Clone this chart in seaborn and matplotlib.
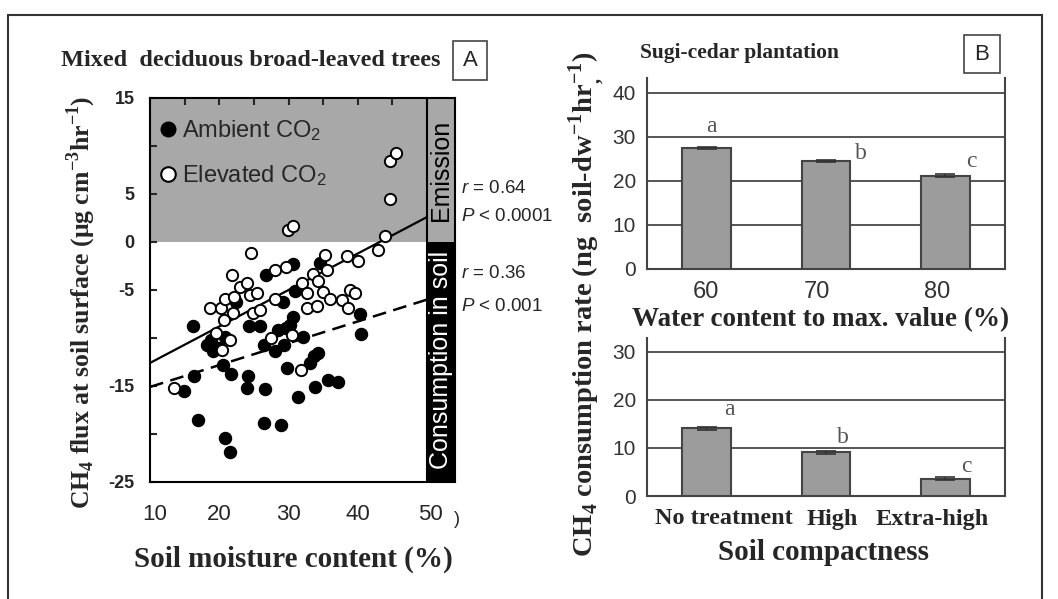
import matplotlib
matplotlib.use('Agg')
import matplotlib.pyplot as plt
import matplotlib.transforms as mtransforms
import pandas as pd
import seaborn as sns
from matplotlib import font_manager
from matplotlib.lines import Line2D
from matplotlib.patches import Rectangle

# ---- Panel A: soil moisture (%) vs CH4 flux ----
ambient_moisture = [26.8, 30.6, 34.5, 30.9, 40.3, 40.5, 29.2, 24.3, 25.9, 30.6,
                    29.7, 32.1, 26.4, 28.1, 29.4, 34.2, 33.1, 29.8, 24.2, 24.0,
                    26.6, 31.4, 33.8, 35.7, 37.2, 26.4, 28.9, 20.8, 21.6, 17.0,
                    14.9, 16.3, 21.7, 20.6, 19.1, 18.2, 20.8, 16.2, 22.4, 18.8,
                    19.9, 33.7, 28.5, 30.2]
ambient_flux = [-3.4, -2.3, -2.2, -5.1, -7.5, -9.6, -6.3, -8.8, -8.75, -7.8,
                -9.0, -9.9, -10.7, -11.4, -10.7, -11.6, -12.6, -13.1, -14.0, -15.2,
                -15.3, -16.1, -15.1, -14.4, -14.6, -18.9, -19.1, -20.4, -21.9, -18.5,
                -15.5, -14.0, -13.8, -12.8, -11.4, -10.7, -9.9, -8.8, -6.3, -10.2,
                -11.0, -11.9, -9.2, -8.6]
elevated_moisture = [24.6, 35.2, 38.5, 40.1, 42.9, 21.8, 28.1, 29.6, 35.5, 33.6,
                     34.3, 32.0, 32.7, 35.0, 36.0, 37.7, 38.6, 38.9, 39.6, 32.6,
                     34.1, 28.1, 24.9, 25.9, 30.5, 27.5, 31.8, 13.5, 20.4, 19.5,
                     21.6, 18.7, 20.2, 20.8, 22.0, 22.1, 23.0, 24.0, 24.5, 20.7,
                     25.4, 44.6, 44.6, 45.5, 29.9, 30.6, 43.9]
elevated_flux = [-1.1, -1.35, -1.5, -2.0, -0.8, -3.4, -2.9, -2.6, -2.9, -3.3,
                 -4.1, -4.3, -5.35, -5.2, -5.9, -6.0, -6.9, -5.0, -5.35, -6.9,
                 -6.7, -5.9, -7.4, -7.1, -9.7, -10.0, -13.3, -15.2, -11.3, -9.5,
                 -10.2, -6.9, -6.9, -5.9, -7.4, -5.7, -4.65, -4.3, -5.5, -8.1,
                 -5.3, 4.5, 8.4, 9.3, 1.3, 1.7, 0.65]

# regression lines (end points at 10 % and 50 % moisture)
fit_moisture = [10, 50]
fit_elevated = [-12.6, 2.6]
fit_ambient = [-15.1, -6.0]
fit_stats = [('0.64', '0.0001'), ('0.36', '0.001')]

# ---- Panel B: CH4 consumption rate ----
water_levels = ['60', '70', '80']
water_rate = [27.5, 24.5, 21.2]
water_err = [0.3, 0.3, 0.3]
water_letters = ['a', 'b', 'c']

compact_levels = ['No treatment', 'High', 'Extra-high']
compact_rate = [14.1, 9.1, 3.6]
compact_err = [0.3, 0.3, 0.3]
compact_letters = ['a', 'b', 'c']

sns.set_style('white')
names = {f.name for f in font_manager.fontManager.ttflist}
narrow = next((n for n in ['Liberation Sans Narrow', 'DejaVu Sans Condensed', 'Liberation Sans']
               if n in names), 'Liberation Sans')
serif = 'Liberation Serif'
sans = 'Liberation Sans'
plt.rcParams['font.family'] = [sans, 'DejaVu Sans']
plt.rcParams['mathtext.fontset'] = 'custom'
plt.rcParams['mathtext.it'] = narrow + ':italic'
plt.rcParams['mathtext.rm'] = narrow

W, H = 1058, 599
fig = plt.figure(figsize=(W / 100, H / 100), dpi=100)


def fx(px):
    return px / W


def fy(py):
    return 1 - py / H


def axes_rect(x0, y0, x1, y1):
    return [fx(x0), fy(y1), fx(x1) - fx(x0), fy(y0) - fy(y1)]


def shift_labels(labels, offsets):
    for lab, dx in zip(labels, offsets):
        lab.set_transform(lab.get_transform() +
                          mtransforms.ScaledTranslation(dx / 100, 0, fig.dpi_scale_trans))


# outer frame of the composite figure
fig.add_artist(Rectangle((fx(8), fy(610)), fx(1042) - fx(8), fy(15) - fy(610),
                         transform=fig.transFigure, fill=False, ec='#333333', lw=1.5))

# ================= Panel A =================
ax = fig.add_axes(axes_rect(150, 98, 455, 482))
x_end = 50 + 28 / 6.925
ax.set_xlim(10, x_end)
ax.set_ylim(-25, 15)
ax.axhspan(0, 15, color='#a8a8a8', lw=0, zorder=0)
ax.fill_between([50, x_end], -25, 0, color='black', lw=0, zorder=1)
ax.axvline(50, color='black', lw=1.5, zorder=2)

sns.lineplot(x=fit_moisture, y=fit_elevated, color='black', lw=1.6, ax=ax, zorder=3)
sns.lineplot(x=fit_moisture, y=fit_ambient, color='black', lw=1.8, ax=ax, zorder=3,
             linestyle=(0, (5.5, 3)))

pts = pd.DataFrame({
    'moisture': ambient_moisture + elevated_moisture,
    'flux': ambient_flux + elevated_flux,
    'co2': ['Ambient'] * len(ambient_moisture) + ['Elevated'] * len(elevated_moisture),
})
sns.scatterplot(data=pts[pts.co2 == 'Ambient'], x='moisture', y='flux', color='black',
                edgecolor='black', s=75, linewidth=1.0, ax=ax, zorder=4, legend=False)
sns.scatterplot(data=pts[pts.co2 == 'Elevated'], x='moisture', y='flux', color='white',
                edgecolor='black', s=66, linewidth=1.4, ax=ax, zorder=5, legend=False)

ax.set_xlabel('')
ax.set_ylabel('')
ax.set_xticks(range(10, 55, 5))
ax.set_xticklabels(['10', '', '20', '', '30', '', '40', '', '50'], fontsize=16,
                   family=sans)
yt = list(range(-25, 20, 5))
ax.set_yticks(yt)
ax.set_yticklabels([str(v) if v in (15, 5, 0, -5, -15, -25) else '' for v in yt],
                   fontsize=13, family=narrow, fontweight='bold')
ax.tick_params(axis='x', direction='in', top=True, length=5, width=1.5, pad=16)
ax.tick_params(axis='y', direction='in', left=True, right=False, length=5, width=1.5, pad=11)
shift_labels(ax.get_xticklabels(), [5, 0, 0, 0, 0, 0, 0, 0, 3])
for s in ax.spines.values():
    s.set_visible(True)
    s.set_linewidth(1.5)
    s.set_color('black')

handles = [Line2D([], [], marker='o', ls='', mfc='black', mec='black', ms=10.5),
           Line2D([], [], marker='o', ls='', mfc='white', mec='black', mew=1.5, ms=10.5)]
leg = ax.legend(handles, ['Ambient CO$_{\\mathregular{2}}$', 'Elevated CO$_{\\mathregular{2}}$'],
                loc='upper left', bbox_to_anchor=(-0.05, 1.002), frameon=False,
                handletextpad=0.1, handlelength=1.0, labelspacing=0.83,
                prop={'family': narrow, 'size': 17})

ax.text(52.02, 7.5, 'Emission', rotation=90, ha='center', va='center',
        fontsize=18, family=sans, color='black', zorder=6)
ax.text(52.02, -12.3, 'Consumption in soil', rotation=90, ha='center', va='center',
        fontsize=18, family=sans, color='white', zorder=6)

stat_y = [188, 216.5, 273, 306.5]
for i, (r, p) in enumerate(fit_stats):
    fig.text(fx(461), fy(stat_y[2 * i]), '$r$ = ' + r, va='center', ha='left',
             fontsize=13.5, family=narrow)
    fig.text(fx(461), fy(stat_y[2 * i + 1]), '$P$ < ' + p, va='center', ha='left',
             fontsize=13.5, family=narrow)

fig.text(fx(457), fy(520), ')', va='center', ha='center', fontsize=13, family=sans)
fig.text(fx(82), fy(302),
         'CH$_{\\mathregular{4}}$ flux at soil surface (\u03bcg cm$^{\\mathregular{-3}}$hr$^{\\mathregular{-1}}$)',
         rotation=90, ha='center', va='center', fontsize=18.5, family=serif, fontweight='bold')
fig.text(fx(293), fy(559), 'Soil moisture content (%)', ha='center', va='center',
         fontsize=21, family=serif, fontweight='bold')
fig.text(fx(251), fy(60), 'Mixed  deciduous broad-leaved trees', ha='center', va='center',
         fontsize=17.5, family=serif, fontweight='bold')
fig.add_artist(Rectangle((fx(453), fy(80)), fx(487) - fx(453), fy(41) - fy(80),
                         transform=fig.transFigure, fill=False, ec='#444444', lw=1.2))
fig.text(fx(470), fy(61), 'A', ha='center', va='center', fontsize=16, family=sans)


# ================= Panel B =================
def bar_panel(rect, levels, rate, err, letters, ymax, yticks, letter_pos):
    bx = fig.add_axes(rect)
    sns.barplot(x=levels, y=rate, order=levels, color='#9c9c9c', edgecolor='#444444',
                linewidth=1.5, width=0.41, saturation=1, errorbar=None, ax=bx, zorder=3)
    bx.errorbar(range(len(levels)), rate, yerr=err, fmt='none', ecolor='#333333',
                elinewidth=1.2, capsize=7, capthick=1.2, zorder=4)
    bx.set_xlim(-0.5, len(levels) - 0.5)
    bx.set_ylim(0, ymax)
    bx.set_yticks(yticks)
    bx.set_yticklabels([str(v) for v in yticks], fontsize=15, family=sans, color='#333333')
    bx.yaxis.grid(True, color='#555555', lw=1.4)
    bx.set_axisbelow(True)
    bx.set_xlabel('')
    bx.set_ylabel('')
    bx.tick_params(axis='y', length=0, pad=8)
    bx.tick_params(axis='x', which='major', length=0, pad=9)
    bx.set_xticks([0.5, 1.5], minor=True)
    bx.tick_params(axis='x', which='minor', direction='in', length=5, width=1.2,
                   color='#555555')
    for side in ('left', 'right', 'bottom'):
        bx.spines[side].set_visible(True)
        bx.spines[side].set_color('#444444')
        bx.spines[side].set_linewidth(1.5)
    bx.spines['top'].set_visible(False)
    for i, (lt, (dx, ly)) in enumerate(zip(letters, letter_pos)):
        bx.text(i + dx, ly, lt, ha='center', va='center', fontsize=17, family=serif,
                color='#555555')
    return bx


b1 = bar_panel(axes_rect(647, 78, 1005, 269), water_levels, water_rate, water_err,
               water_letters, 43.4, [0, 10, 20, 30, 40],
               [(0.04, 32.3), (0.29, 26.3), (0.22, 24.5)])
b1.set_xticks(range(3))
b1.set_xticklabels(water_levels, fontsize=17, family=sans, color='#333333')
shift_labels(b1.get_xticklabels(), [-1, -9, -8])

b2 = bar_panel(axes_rect(647, 338, 1005, 496), compact_levels, compact_rate, compact_err,
               compact_letters, 32.9, [0, 10, 20, 30],
               [(0.19, 18.0), (0.14, 12.1), (0.18, 6.2)])
b2.set_xticks(range(3))
b2.set_xticklabels(compact_levels, fontsize=17.5, family=serif, fontweight='bold')
shift_labels(b2.get_xticklabels(), [17, 6, -13])

fig.text(fx(821), fy(320), 'Water content to max. value (%)', ha='center', va='center',
         fontsize=19.5, family=serif, fontweight='bold')
fig.text(fx(823), fy(553), 'Soil compactness', ha='center', va='center',
         fontsize=21, family=serif, fontweight='bold')
fig.text(fx(587), fy(304),
         'CH$_{\\mathregular{4}}$ consumption rate (ng  soil-dw$^{\\mathregular{-1}}$hr$^{\\mathregular{-1}}_{\\mathregular{,}}$)',
         rotation=90, ha='center', va='center', fontsize=20.5, family=serif, fontweight='bold')
fig.text(fx(740), fy(53), 'Sugi-cedar plantation', ha='center', va='center',
         fontsize=15.5, family=serif, fontweight='bold')
fig.add_artist(Rectangle((fx(964), fy(73)), fx(1000) - fx(964), fy(35) - fy(73),
                         transform=fig.transFigure, fill=False, ec='#444444', lw=1.2))
fig.text(fx(982), fy(54), 'B', ha='center', va='center', fontsize=16, family=sans)

fig.savefig('out.png', dpi=100)
